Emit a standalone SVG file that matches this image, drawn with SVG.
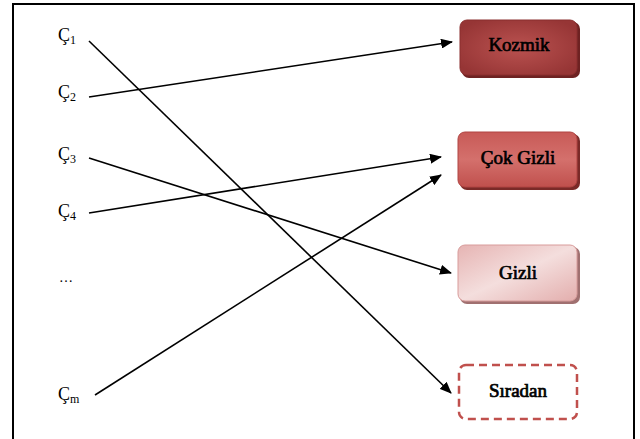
<svg xmlns="http://www.w3.org/2000/svg" width="640" height="439" viewBox="0 0 640 439">
  <style>
    .lbl { font-family: "Liberation Serif", "Times New Roman", serif; font-size: 18px; fill: #000; }
    .sub { font-size: 12px; }
    .node-text { font-family: "Liberation Serif", "Times New Roman", serif; font-size: 19px; fill: #000; stroke: #000; stroke-width: 0.7; text-anchor: middle; }
    .edge { stroke: #000; stroke-width: 1.6; fill: none; marker-end: url(#arrow); }
  </style>
  <defs>
    <marker id="arrow" viewBox="0 0 12 10" refX="11" refY="5" markerWidth="12" markerHeight="10" markerUnits="userSpaceOnUse" orient="auto">
      <path d="M0,0 L12,5 L0,10 z" fill="#000"/>
    </marker>
    <radialGradient id="gKozmik" cx="0.5" cy="0.5" r="0.6">
      <stop offset="0" stop-color="#BA5250"/>
      <stop offset="1" stop-color="#963535"/>
    </radialGradient>
    <linearGradient id="gCok" x1="0" y1="0" x2="0" y2="1">
      <stop offset="0" stop-color="#C85A57"/>
      <stop offset="0.5" stop-color="#D4706C"/>
      <stop offset="1" stop-color="#C0504D"/>
    </linearGradient>
    <linearGradient id="gGizli" x1="0" y1="0" x2="1" y2="1">
      <stop offset="0" stop-color="#E6B4B3"/>
      <stop offset="0.5" stop-color="#F4DEDD"/>
      <stop offset="1" stop-color="#E3AEAD"/>
    </linearGradient>
  </defs>

  <!-- outer frame -->
  <path d="M13,439 V4 H634 V439" fill="none" stroke="#000" stroke-width="2"/>

  <!-- source labels -->
  <g id="c1"><text class="lbl" x="58" y="41">Ç<tspan class="sub" dy="3">1</tspan></text></g>
  <g id="c2"><text class="lbl" x="58" y="98">Ç<tspan class="sub" dy="3">2</tspan></text></g>
  <g id="c3"><text class="lbl" x="58" y="160">Ç<tspan class="sub" dy="3">3</tspan></text></g>
  <g id="c4"><text class="lbl" x="58" y="217">Ç<tspan class="sub" dy="3">4</tspan></text></g>
  <g id="dots"><text class="lbl" x="59" y="282" style="font-size:14px">…</text></g>
  <g id="cm"><text class="lbl" x="58" y="400">Ç<tspan class="sub" dy="3">m</tspan></text></g>

  <!-- classification nodes -->
  <g id="kozmik">
    <rect x="462" y="22" width="118" height="56" rx="7" fill="#6E2222"/>
    <rect x="460" y="20" width="117" height="55" rx="7" fill="url(#gKozmik)" stroke="#8A2E2E" stroke-width="1"/>
    <text class="node-text" x="519" y="51">Kozmik</text>
  </g>
  <g id="cokgizli">
    <rect x="460" y="134" width="120" height="56" rx="7" fill="#7A2A28"/>
    <rect x="458" y="132" width="119" height="55" rx="7" fill="url(#gCok)" stroke="#B04442" stroke-width="1"/>
    <text class="node-text" x="518" y="164">Çok Gizli</text>
  </g>
  <g id="gizli">
    <rect x="460" y="247" width="120" height="57" rx="7" fill="#A07070"/>
    <rect x="458" y="245" width="119" height="56" rx="7" fill="url(#gGizli)" stroke="#D89C9B" stroke-width="1"/>
    <text class="node-text" x="518" y="279">Gizli</text>
  </g>
  <g id="siradan">
    <rect x="459" y="365" width="118" height="54" rx="7" fill="#fff" stroke="#C0504D" stroke-width="2.5" stroke-dasharray="8,5"/>
    <text class="node-text" x="518" y="397">Sıradan</text>
  </g>

  <!-- connectors -->
  <g id="connectors">
    <line class="edge" x1="89" y1="41" x2="451" y2="393"/>
    <line class="edge" x1="89" y1="97" x2="452" y2="42"/>
    <line class="edge" x1="89" y1="158" x2="451" y2="273"/>
    <line class="edge" x1="89" y1="213" x2="441" y2="157"/>
    <line class="edge" x1="95" y1="395" x2="441" y2="175"/>
  </g>
</svg>
